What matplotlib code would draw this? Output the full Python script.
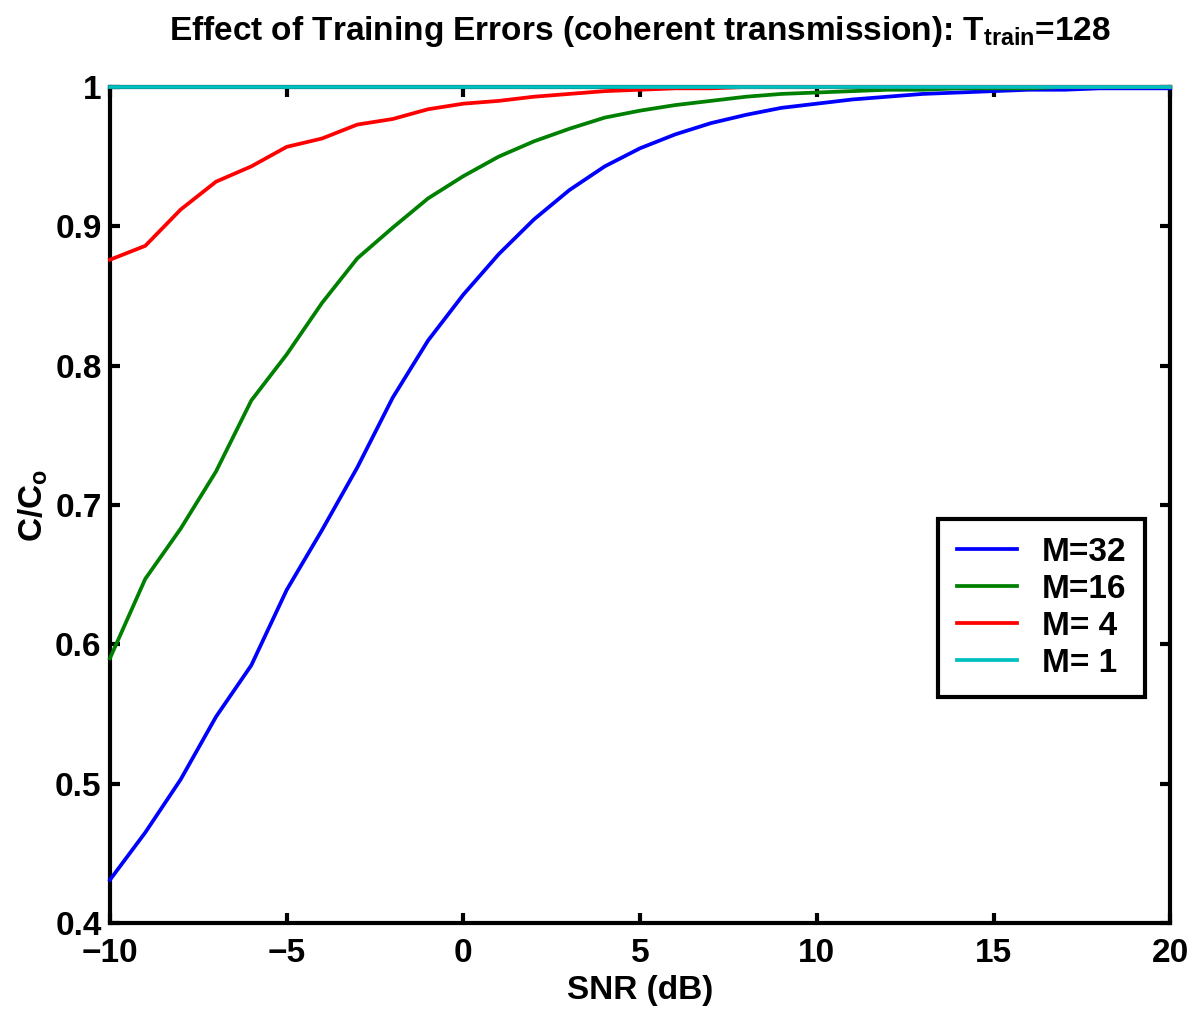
import matplotlib
matplotlib.use("Agg")
import matplotlib.pyplot as plt
import numpy as np

snr_db = list(range(-10, 21))
m32 = [0.431, 0.465, 0.503, 0.548, 0.585, 0.639, 0.682, 0.727, 0.777, 0.818,
       0.851, 0.880, 0.905, 0.926, 0.943, 0.956, 0.966, 0.974, 0.980, 0.985,
       0.988, 0.991, 0.993, 0.995, 0.996, 0.997, 0.998, 0.998, 0.999, 0.999, 0.999]
m16 = [0.590, 0.647, 0.683, 0.724, 0.775, 0.808, 0.845, 0.877, 0.899, 0.920,
       0.936, 0.950, 0.961, 0.970, 0.978, 0.983, 0.987, 0.990, 0.993, 0.995,
       0.996, 0.997, 0.998, 0.998, 0.999, 0.999, 0.999, 1.000, 1.000, 1.000, 1.000]
m4 = [0.876, 0.886, 0.912, 0.932, 0.943, 0.957, 0.963, 0.973, 0.977, 0.984,
      0.988, 0.990, 0.993, 0.995, 0.997, 0.998, 0.999, 0.999, 1.000, 1.000,
      1.000, 1.000, 1.000, 1.000, 1.000, 1.000, 1.000, 1.000, 1.000, 1.000, 1.000]
m1 = [1.0] * 31
series_labels = ["M=32", "M=16", "M= 4", "M= 1"]
series_colors = ["#0000ff", "#008000", "#ff0000", "#00bfbf"]
xticks = [-10, -5, 0, 5, 10, 15, 20]
yticks = [0.4, 0.5, 0.6, 0.7, 0.8, 0.9, 1.0]
ytick_labels = ["0.4", "0.5", "0.6", "0.7", "0.8", "0.9", "1"]

plt.rcParams['font.family'] = ['Liberation Sans', 'DejaVu Sans']
plt.rcParams['font.weight'] = 'bold'
plt.rcParams['mathtext.fontset'] = 'custom'
plt.rcParams['mathtext.rm'] = 'Liberation Sans:bold'
plt.rcParams['mathtext.it'] = 'Liberation Sans:bold'
plt.rcParams['mathtext.bf'] = 'Liberation Sans:bold'

fig = plt.figure(figsize=(11.99, 10.11), dpi=100)
ax = fig.add_axes([0.0917, 0.087, 0.8843, 0.827])

for i, (ys, lab, c) in enumerate(zip([m32, m16, m4, m1], series_labels, series_colors)):
    ax.plot(snr_db, ys, color=c, lw=2.7, label=lab, clip_on=False, zorder=3 + i)

ax.set_xlim(-10, 20)
ax.set_ylim(0.4, 1.0)
ax.set_xticks(xticks)
ax.set_xticklabels(["\u2212" + str(-t) if t < 0 else str(t) for t in xticks])
ax.set_yticks(yticks)
ax.set_yticklabels(ytick_labels)
ax.tick_params(direction='in', length=7.5, width=3, top=True, right=True,
               labelsize=24)
ax.tick_params(axis='y', pad=6)
ax.tick_params(axis='x', pad=11)
for s in ax.spines.values():
    s.set_linewidth(3)

ax.set_xlabel("SNR (dB)", fontsize=24, fontweight='bold', labelpad=4)
ax.set_ylabel(r"C/C$_{\mathrm{o}}$", fontsize=24, fontweight='bold', labelpad=4)
ax.set_title(r"Effect of Training Errors (coherent transmission): T$_{\mathrm{train}}$=128",
             fontsize=24, fontweight='bold', pad=34)

leg = ax.legend(loc='lower right', bbox_to_anchor=(0.976, 0.270), borderaxespad=0,
                fontsize=24, frameon=True, fancybox=False, edgecolor='black',
                framealpha=1, handlelength=1.8, borderpad=0.55, labelspacing=0.18,
                handletextpad=0.75)
leg.get_frame().set_linewidth(3)
leg.get_frame().set_facecolor('white')

fig.savefig("out.png", dpi=100)
